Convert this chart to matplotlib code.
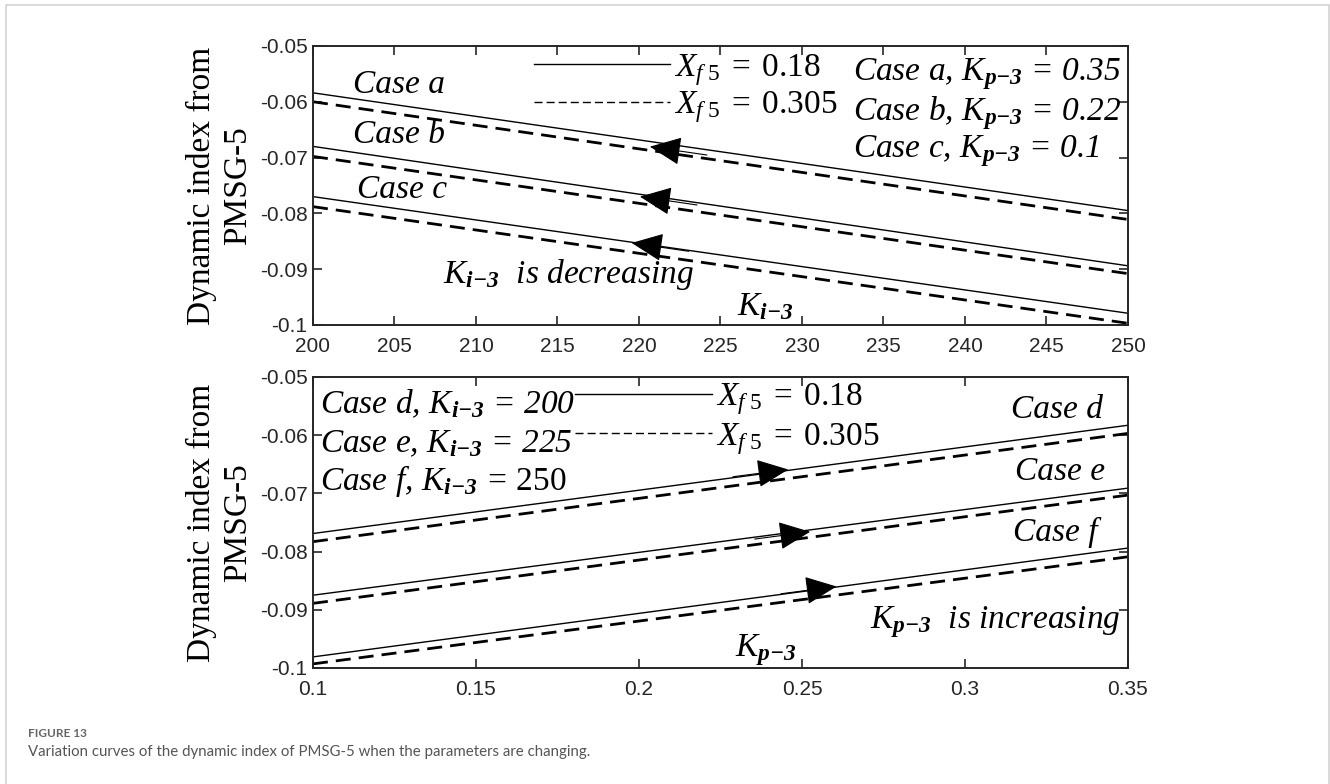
#!/usr/bin/env python3
"""
Figure 13: variation curves of the dynamic index of PMSG-5 when the
controller parameters change (K_i-3 sweep on top, K_p-3 sweep below).
"""
import matplotlib
matplotlib.use('Agg')
import matplotlib.pyplot as plt
from matplotlib.lines import Line2D
from matplotlib.patches import Rectangle
import numpy as np

plt.rcParams.update({
    'font.family': 'Liberation Sans',
    'font.size': 15,
    'axes.unicode_minus': False,
    'mathtext.fontset': 'custom',
    'mathtext.rm': 'Liberation Serif',
    'mathtext.it': 'Liberation Serif:italic',
    'mathtext.bf': 'Liberation Serif:bold',
    'mathtext.bfit': 'Liberation Serif:italic:bold',
    'xtick.direction': 'in',
    'ytick.direction': 'in',
})

# ---- data (line end points, lines are straight) ----
# top panel: x = K_i-3
ki = [200, 250]
case_a_018 = [-0.0584, -0.0795]
case_a_0305 = [-0.0600, -0.0811]
case_b_018 = [-0.0680, -0.0894]
case_b_0305 = [-0.0698, -0.0908]
case_c_018 = [-0.0770, -0.0979]
case_c_0305 = [-0.0788, -0.0997]

# bottom panel: x = K_p-3
kp = [0.1, 0.35]
case_d_018 = [-0.0769, -0.0583]
case_d_0305 = [-0.0783, -0.0597]
case_e_018 = [-0.0875, -0.0691]
case_e_0305 = [-0.0889, -0.0703]
case_f_018 = [-0.0981, -0.0794]
case_f_0305 = [-0.0993, -0.0809]

# arrow tips (data coords)
arrow_tips_top = [(220.67, -0.06805), (220.06, -0.0770), (219.55, -0.0853)]
arrow_tips_bot = [(0.2458, -0.0659), (0.2525, -0.0766), (0.2606, -0.0860)]

ki_ticks = np.arange(200, 251, 5)
kp_ticks = [0.1, 0.15, 0.2, 0.25, 0.3, 0.35]
kp_ticklabels = ['0.1', '0.15', '0.2', '0.25', '0.3', '0.35']
y_ticks = [-0.1, -0.09, -0.08, -0.07, -0.06, -0.05]
y_ticklabels = ['-0.1', '-0.09', '-0.08', '-0.07', '-0.06', '-0.05']

SERIF = 'Liberation Serif'
TXT = 24
AXC = '#262626'

SOLID = dict(color='k', lw=1.0)
DASHED = dict(color='k', lw=2.0, dashes=(5.4, 2.9))

SUB_P = r'$_{\mathbfit{p{-}3}}$'
SUB_I = r'$_{\mathbfit{i{-}3}}$'


def style_axes(ax):
    for s in ax.spines.values():
        s.set_linewidth(1.4)
        s.set_color(AXC)
    ax.tick_params(which='both', top=True, right=True, length=6.5, width=1.2,
                   color=AXC, labelcolor=AXC, labelsize=15)
    ax.tick_params(axis='x', pad=9)
    ax.tick_params(axis='y', pad=4)
    ax.set_ylim(-0.1, -0.05)
    ax.set_yticks(y_ticks)
    ax.set_yticklabels(y_ticklabels)
    ax.set_ylabel('Dynamic index from\nPMSG-5', family=SERIF, fontsize=24,
                  color='k', linespacing=1.2)
    ax.yaxis.set_label_coords(-0.074, 0.5)


def legend_handles():
    h1 = Line2D([], [], color='k', lw=1.0)
    h2 = Line2D([], [], color='k', lw=1.0, dashes=(5.8, 2.9))
    return [h1, h2], [r'$X_{f\ 5}\;=\;0.18$', r'$X_{f\ 5}\;=\;0.305$']


def draw_arrow(ax, tip, tail):
    ax.annotate('', xy=tip, xytext=tail,
                arrowprops=dict(arrowstyle='-|>,head_length=1.0,head_width=0.45',
                                mutation_scale=20, color='k', lw=0.8,
                                shrinkA=0, shrinkB=0))


def it_text(ax, x, y, s):
    ax.text(x, y, s, transform=ax.transAxes, family=SERIF, style='italic',
            fontsize=TXT, va='baseline')


def generate_figure():
    fig = plt.figure(figsize=(13.3, 7.84), dpi=100)

    # outer frame of the journal figure box
    fig.patches.append(Rectangle((0.0045, -0.1), 0.995, 1.0936, fill=False,
                                 edgecolor='#d0d0d0', lw=1.1,
                                 transform=fig.transFigure, zorder=0))

    # ---------------- top panel ----------------
    ax1 = fig.add_axes([0.2353, 0.5855, 0.6128, 0.3559])
    ax1.plot(ki, case_a_018, **SOLID)
    ax1.plot(ki, case_a_0305, **DASHED)
    ax1.plot(ki, case_b_018, **SOLID)
    ax1.plot(ki, case_b_0305, **DASHED)
    ax1.plot(ki, case_c_018, **SOLID)
    ax1.plot(ki, case_c_0305, **DASHED)
    ax1.set_xlim(200, 250)
    ax1.set_xticks(ki_ticks)
    style_axes(ax1)

    slope_top = (case_b_018[1] - case_b_018[0]) / (ki[1] - ki[0])
    for tx, ty in arrow_tips_top:
        draw_arrow(ax1, (tx, ty), (tx + 3.5, ty + 3.5 * slope_top))

    h, l = legend_handles()
    ax1.legend(h, l, loc='upper left', bbox_to_anchor=(0.2545, 1.027),
               frameon=False, handlelength=4.1, handletextpad=0.12,
               labelspacing=0.05, fontsize=24, borderaxespad=0)

    it_text(ax1, 0.049, 0.8315, 'Case a')
    it_text(ax1, 0.049, 0.652, 'Case b')
    it_text(ax1, 0.054, 0.455, 'Case c')
    it_text(ax1, 0.6626, 0.878, 'Case a, K' + SUB_P + ' = 0.35')
    it_text(ax1, 0.6626, 0.735, 'Case b, K' + SUB_P + ' = 0.22')
    it_text(ax1, 0.6626, 0.602, 'Case c, K' + SUB_P + ' = 0.1')
    it_text(ax1, 0.1595, 0.1505, 'K' + SUB_I + '  is decreasing')
    it_text(ax1, 0.52, 0.036, 'K' + SUB_I)

    # ---------------- bottom panel ----------------
    ax2 = fig.add_axes([0.2353, 0.148, 0.6128, 0.3712])
    ax2.plot(kp, case_d_018, **SOLID)
    ax2.plot(kp, case_d_0305, **DASHED)
    ax2.plot(kp, case_e_018, **SOLID)
    ax2.plot(kp, case_e_0305, **DASHED)
    ax2.plot(kp, case_f_018, **SOLID)
    ax2.plot(kp, case_f_0305, **DASHED)
    ax2.set_xlim(0.1, 0.35)
    ax2.set_xticks(kp_ticks)
    ax2.set_xticklabels(kp_ticklabels)
    style_axes(ax2)

    slope_bot = (case_e_018[1] - case_e_018[0]) / (kp[1] - kp[0])
    for tx, ty in arrow_tips_bot:
        draw_arrow(ax2, (tx, ty), (tx - 0.017, ty - 0.017 * slope_bot))

    h, l = legend_handles()
    ax2.legend(h, l, loc='upper left', bbox_to_anchor=(0.305, 1.03),
               frameon=False, handlelength=4.1, handletextpad=0.12,
               labelspacing=0.1, fontsize=24, borderaxespad=0)

    it_text(ax2, 0.0086, 0.876, 'Case d, K' + SUB_I + ' = 200')
    it_text(ax2, 0.0086, 0.743, 'Case e, K' + SUB_I + ' = 225')
    it_text(ax2, 0.0086, 0.612, 'Case f, K' + SUB_I + r' = $\mathrm{250}$')
    it_text(ax2, 0.857, 0.858, 'Case d')
    it_text(ax2, 0.862, 0.646, 'Case e')
    it_text(ax2, 0.859, 0.4375, 'Case f')
    it_text(ax2, 0.684, 0.1364, 'K' + SUB_P + '  is increasing')
    it_text(ax2, 0.518, 0.039, 'K' + SUB_P)

    # ---------------- caption ----------------
    fig.text(0.021, 0.065, 'FIGURE 13', family='Lato', fontweight='bold',
             fontsize=8.5, color='#666666', va='center')
    fig.text(0.021, 0.041,
             'Variation curves of the dynamic index of PMSG-5 when the '
             'parameters are changing.',
             family='Lato', fontsize=10.8, color='#555555', va='center')

    fig.savefig('out.png', dpi=100)
    plt.close(fig)


if __name__ == '__main__':
    generate_figure()
